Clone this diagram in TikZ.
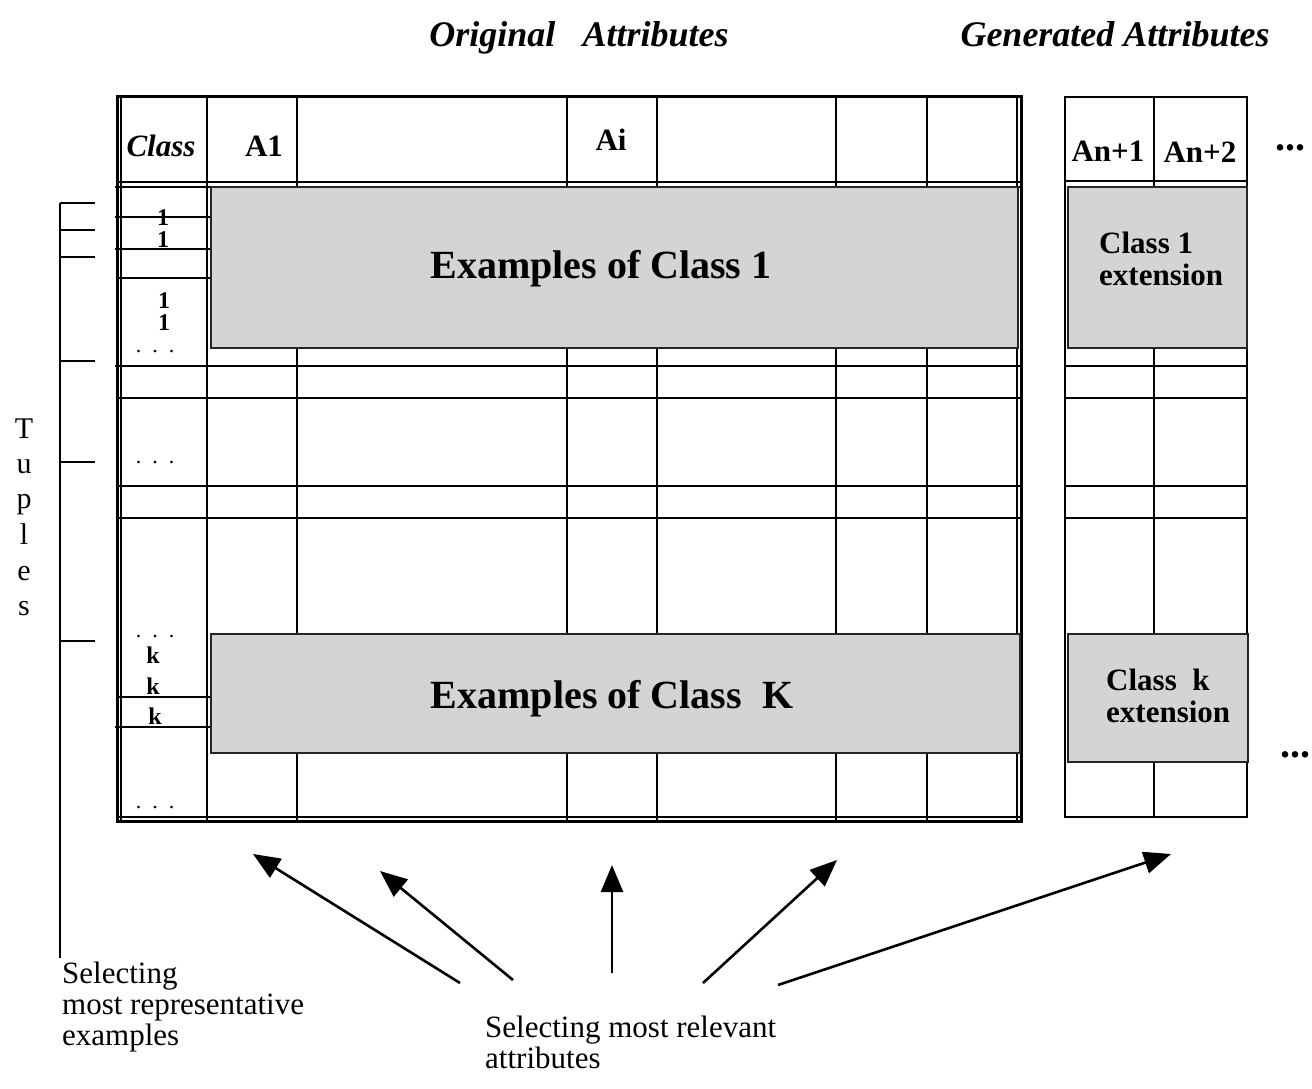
\documentclass[tikz,border=0pt]{standalone}
\usepackage{fontspec}
\setmainfont{Liberation Serif}
\usetikzlibrary{arrows.meta}
\newcommand{\fsz}[1]{\fontsize{#1}{#1}\selectfont}
\begin{document}
\begin{tikzpicture}[x=1pt,y=-1pt,
  grid/.style={line width=2.6pt},
  thin2/.style={line width=1.5pt},
  shadebox/.style={fill=black!17, draw=black!85, line width=2.2pt, inner sep=0pt},
  hdr/.style={font=\fsz{31}\bfseries, anchor=base, inner sep=0pt},
  cls/.style={font=\fsz{24}\bfseries, anchor=base, inner sep=0pt, text height=16pt, text depth=0pt},
  dts/.style={font=\fsz{22}, anchor=base, inner sep=0pt},
  big/.style={font=\fsz{40}\bfseries, anchor=base, inner sep=0pt},
  ext/.style={font=\fsz{31}\bfseries, align=left, inner sep=0pt},
  title/.style={font=\fsz{36}\bfseries\itshape, anchor=base, inner sep=0pt},
  plain/.style={font=\fsz{30}, anchor=base, inner sep=0pt},
  botlbl/.style={font=\fsz{31}, align=left, anchor=north west, inner sep=0pt},
  sel/.style={line width=2.6pt, -{Triangle[length=27pt,width=22pt]}}
]
\useasboundingbox (0,0) rectangle (1312,1089);
% titles
\node[title] (torig) at (579,47) {Original\ \ \ Attributes};
\node[title] (tgen) at (1115,47) {Generated Attributes};
% main table grid
\draw[line width=3pt] (117,97) rectangle (1021,821);
\draw[thin2] (121,97) -- (121,821);
\draw[thin2] (1017,97) -- (1017,821);
\draw[thin2] (117,817) -- (1021,817);
\draw[grid] (117,182) -- (1021,182);
\draw[grid] (115,187) -- (1021,187);
\foreach \x in {207,297,567,657,836,927} \draw[grid] (\x,97) -- (\x,821);
\draw[grid] (115,366) -- (1021,366);
\foreach \y in {398,486,518} \draw[grid] (117,\y) -- (1021,\y);
\draw[grid] (115,217) -- (211,217);
\draw[grid] (115,249) -- (211,249);
\draw[grid] (117,278) -- (211,278);
\draw[grid] (117,697) -- (211,697);
\draw[grid] (115,727) -- (211,727);
% right table grid
\draw[grid] (1065,97) rectangle (1247,817);
\draw[grid] (1065,181) -- (1247,181);
\draw[grid] (1154,97) -- (1154,817);
\foreach \y in {366,398,486,518} \draw[grid] (1065,\y) -- (1247,\y);
% shaded boxes
\node[shadebox, minimum width=807pt, minimum height=161pt] (ex1) at (614.5,267.5) {};
\node[shadebox, minimum width=809pt, minimum height=119pt] (exk) at (615.5,693.5) {};
\node[shadebox, minimum width=179pt, minimum height=161pt] (ext1) at (1157.5,267.5) {};
\node[shadebox, minimum width=180pt, minimum height=128pt] (extk) at (1158,698) {};
% box texts
\node[big] (lex1) at (601,278) {Examples of Class 1};
\node[big] (lexk) at (612,708) {Examples of Class\ \ K};
\node[ext, anchor=west] (lext1) at (1099,259) {Class 1\\[1pt]extension};
\node[ext, anchor=west] (lextk) at (1106,696) {Class\ \ k\\[1pt]extension};
% headers
\node[hdr, font=\fsz{31}\bfseries\itshape] (hclass) at (161,157) {Class};
\node[hdr] (ha1) at (264,157) {A1};
\node[hdr] (hai) at (611,151) {Ai};
\node[hdr] (han1) at (1108,161) {An+1};
\node[hdr] (han2) at (1200,163) {An+2};
\node[hdr, font=\fsz{40}\bfseries] (hdots1) at (1290,151) {...};
\node[hdr, font=\fsz{40}\bfseries] (hdots2) at (1295,757) {...};
% class column
\node[cls] (c1) at (163,225) {1};
\node[cls] (c2) at (163,247) {1};
\node[cls] (c3) at (164,308) {1};
\node[cls] (c4) at (164,330) {1};
\node[dts] (d1) at (155,352) {.\ \ .\ \ .};
\node[dts] (d2) at (155,463) {.\ \ .\ \ .};
\node[dts] (d3) at (155,637) {.\ \ .\ \ .};
\node[cls] (k1) at (153,663) {k};
\node[cls] (k2) at (153,694) {k};
\node[cls] (k3) at (155,724) {k};
\node[dts] (d4) at (155,808) {.\ \ .\ \ .};
% tuples bracket
\draw[grid] (60,203) -- (60,958);
\foreach \y in {203,230,257,361,462,641} \draw[grid] (60,\y) -- (95,\y);
\node[plain] (tT) at (24,438) {T};
\node[plain] (tu) at (24,473) {u};
\node[plain] (tp) at (24,508) {p};
\node[plain] (tl) at (24,544) {l};
\node[plain] (te) at (24,580) {e};
\node[plain] (ts) at (24,615) {s};
% bottom labels
\node[botlbl] (lrep) at (62,962) {Selecting\\most representative\\examples};
\node[botlbl] (lrel) at (485,1016) {Selecting most relevant\\attributes};
% arrows
\coordinate (s1) at (460,983); \coordinate (e1) at (253,854);
\coordinate (s2) at (513,980); \coordinate (e2) at (380,871);
\coordinate (s3) at (612,973); \coordinate (e3) at (612,865);
\coordinate (s4) at (703,983); \coordinate (e4) at (837,860);
\coordinate (s5) at (778,985); \coordinate (e5) at (1171,854);
\foreach \i in {1,...,5} \draw[sel] (s\i) -- (e\i);
\end{tikzpicture}
\end{document}
